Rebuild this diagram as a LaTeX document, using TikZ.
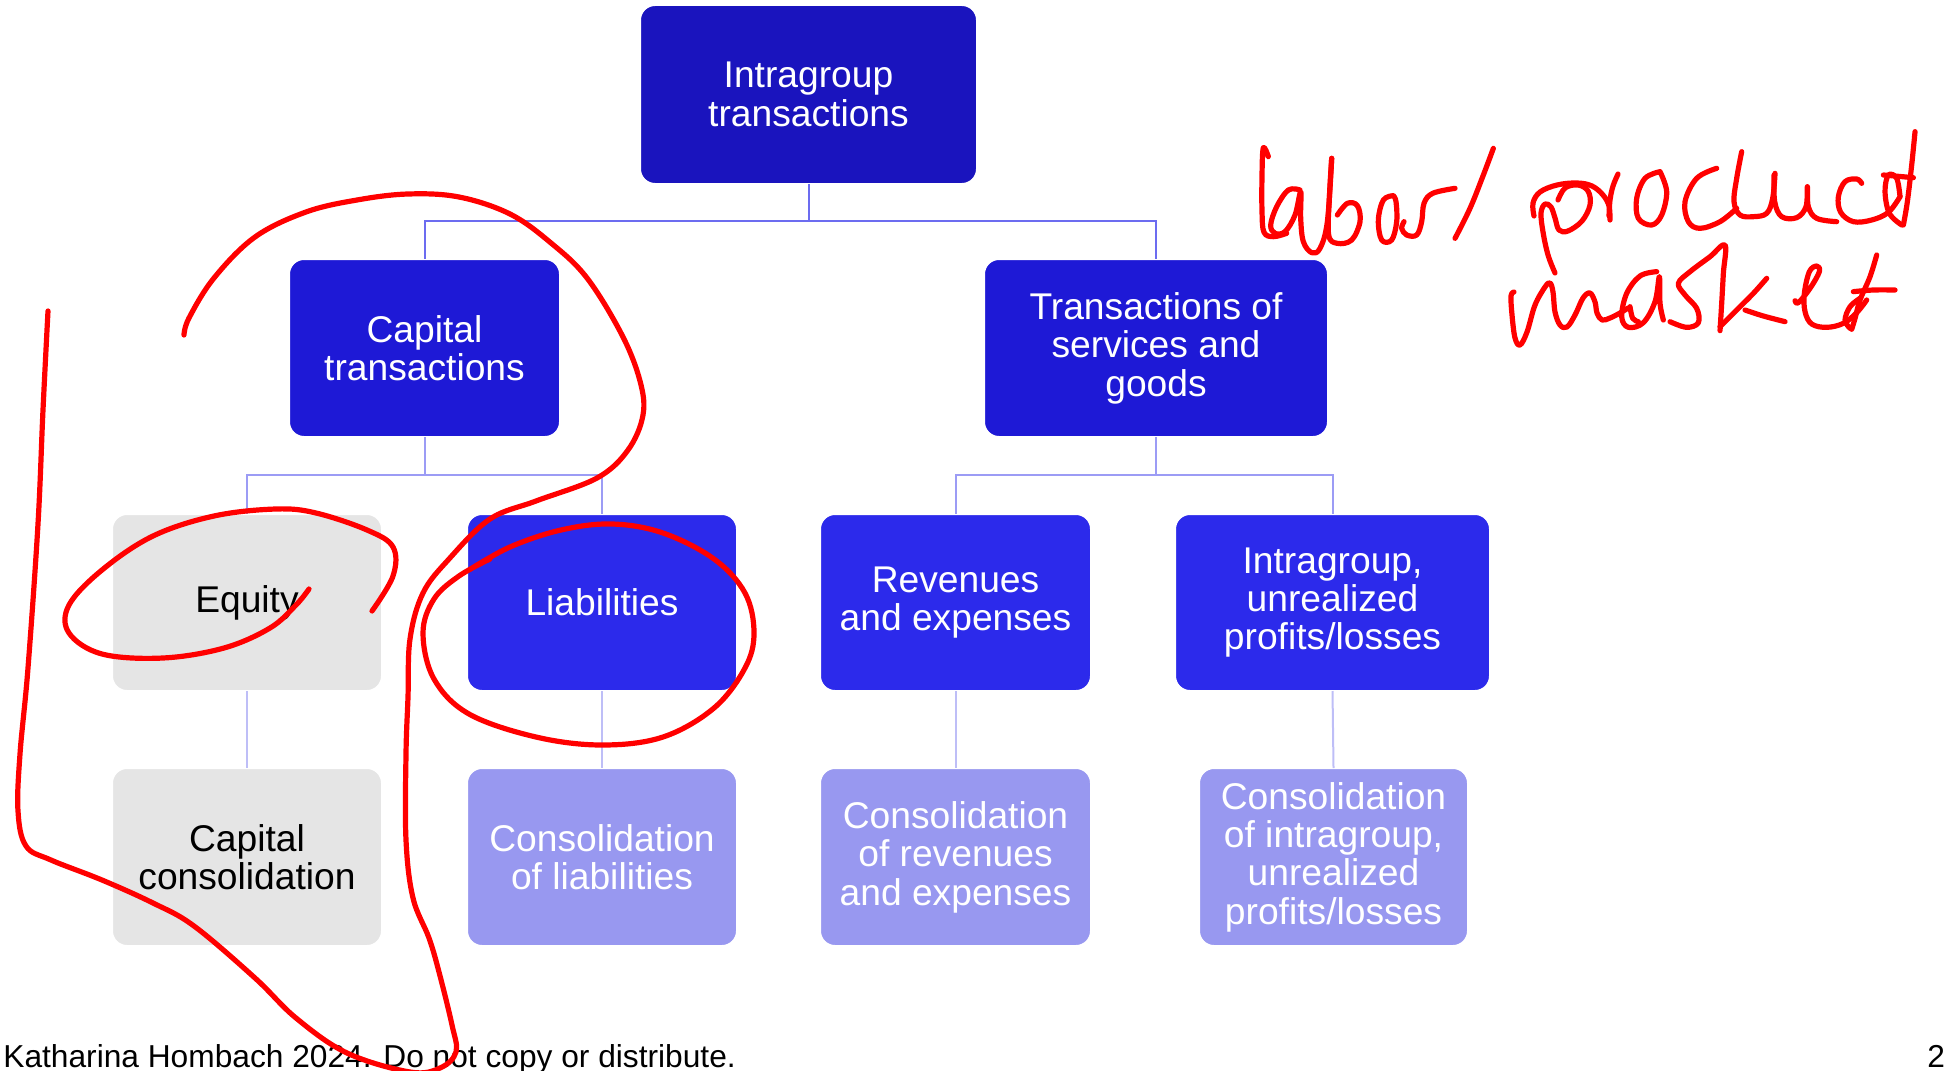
\documentclass[tikz,border=0pt]{standalone}
\usepackage{fontspec}
\setmainfont{Liberation Sans}
\definecolor{blueA}{HTML}{1A14BE}
\definecolor{blueB}{HTML}{1E19D6}
\definecolor{blueC}{HTML}{2C2AEB}
\definecolor{blueD}{HTML}{9898F0}
\definecolor{greyBox}{HTML}{E5E5E5}
\definecolor{linkA}{HTML}{6C6CF0}
\definecolor{linkB}{HTML}{9C9CF5}
\definecolor{linkC}{HTML}{BEBEF7}
\definecolor{ink}{HTML}{FF0000}
\begin{document}
\begin{tikzpicture}[x=0.5pt,y=-0.5pt,
  box/.style={rectangle, rounded corners=7.5pt, draw=white, line width=1pt,
    inner sep=0pt, outer sep=0pt, align=center, text=white,
    font=\fontsize{18.6}{19.2}\selectfont},
  link/.style={line width=1pt},
  pen/.style={draw=ink, line width=2.6pt, line cap=round, line join=round},
  zoomframe/.style={x={(0.16667pt,0)}, y={(0,-0.16667pt)}}]
\useasboundingbox (0,0) rectangle (1946,1070);

% boxes
\node[box, fill=blueA, minimum width=168.5pt, minimum height=89.5pt] (top) at (808.5,94.5) {Intragroup\\transactions};
\node[box, fill=blueB, minimum width=135.5pt, minimum height=89pt] (cap) at (424.5,348) {Capital\\transactions};
\node[box, fill=blueB, minimum width=172pt, minimum height=89pt] (svc) at (1156,348) {Transactions of\\services and\\goods};
\node[box, fill=greyBox, text=black, minimum width=135pt, minimum height=88.5pt] (eq) at (247,602.5) {Equity};
\node[box, fill=blueC, minimum width=135pt, minimum height=88.5pt] (liab) at (602,602.5) {Liabilities};
\node[box, fill=blueC, minimum width=135.5pt, minimum height=88.5pt] (rev) at (955.5,602.5) {Revenues\\and expenses};
\node[box, fill=blueC, minimum width=157.5pt, minimum height=88.5pt] (ipl) at (1332.5,602.5) {Intragroup,\\unrealized\\profits/losses};
\node[box, fill=greyBox, text=black, minimum width=135pt, minimum height=89pt] (capc) at (247,857) {Capital\\consolidation};
\node[box, fill=blueD, minimum width=135pt, minimum height=89pt] (liabc) at (602,857) {Consolidation\\of liabilities};
\node[box, fill=blueD, minimum width=135.5pt, minimum height=89pt] (revc) at (955.5,857) {Consolidation\\of revenues\\and expenses};
\node[box, fill=blueD, minimum width=134.5pt, minimum height=89pt] (iplc) at (1333.5,857) {Consolidation\\of intragroup,\\unrealized\\profits/losses};

% connectors
\draw[link, linkA] (top.south) -- ++(0,37) -| (cap.north);
\draw[link, linkA] (top.south) -- ++(0,37) -| (svc.north);
\draw[link, linkB] (cap.south) -- ++(0,38) -| (eq.north);
\draw[link, linkB] (cap.south) -- ++(0,38) -| (liab.north);
\draw[link, linkB] (svc.south) -- ++(0,38) -| (rev.north);
\draw[link, linkB] (svc.south) -- ++(0,38) -| (ipl.north);
\draw[link, linkC] (eq.south) -- (capc.north);
\draw[link, linkC] (liab.south) -- (liabc.north);
\draw[link, linkC] (rev.south) -- (revc.north);
\draw[link, linkC] (ipl.south) -- (iplc.north);

% footer
\node[anchor=base west, inner sep=0pt, font=\fontsize{15.85}{18}\selectfont] (foot) at (3,1067) {Katharina Hombach 2024. Do not copy or distribute.};
\node[anchor=base west, inner sep=0pt, font=\fontsize{15.85}{18}\selectfont] (page) at (1927,1067) {2};

% red pen annotations
\draw[pen] plot[smooth, tension=0.6] coordinates {(48,311) (43,410) (38,524) (28,668) (20,754) (18,811) (26,846) (51,860) (102,880) (153,903) (194,926) (255,978) (296,1018) (347,1053) (410,1072) (440,1068) (456,1052) (452,1025) (439,972) (429,938) (413,898) (406,840) (406,754) (408,697) (410,639) (423,593) (449,559) (490,519) (536,501) (597,478) (628,450) (643,415) (640,381) (622,335) (587,278) (551,243) (510,214) (459,197) (408,194) (357,200) (306,212) (255,237) (214,278) (189,318) (184,335)};
\draw[pen] plot[smooth, tension=0.6] coordinates {(372,611) (393,576) (393,547) (367,530) (316,513) (276,509) (214,516) (153,536) (102,570) (69,605) (69,633) (102,654) (163,658) (224,648) (270,628) (296,605) (309,589)};
\draw[pen] plot[smooth, tension=0.6] coordinates {(469,570) (510,547) (561,530) (612,524) (663,533) (714,559) (745,593) (754,633) (745,668) (714,708) (663,737) (602,745) (536,737) (469,714) (434,679) (423,633) (434,599) (459,576) (490,559)};

% "labor/"
\begin{scope}[shift={(1250,125)}, zoomframe]
\draw[pen] plot[smooth, tension=0.6] coordinates {(55,95) (40,68) (36,150) (36,260) (42,322) (70,335) (110,325)};
\draw[pen] plot[smooth, tension=0.6] coordinates {(150,195) (115,195) (80,245) (62,300) (75,325) (105,320) (135,270) (152,200) (152,280) (160,350) (185,383) (210,370) (232,290) (245,100)};
\draw[pen] plot[smooth, tension=0.6] coordinates {(245,100) (238,220) (236,330) (262,355) (305,345) (330,290) (322,242) (292,235) (262,270)};
\draw[pen] plot[smooth, tension=0.6] coordinates {(430,212) (400,225) (385,285) (395,345) (425,345) (440,290) (438,230) (430,212)};
\draw[pen] plot[smooth, tension=0.6] coordinates {(462,290) (455,310) (470,330) (500,330) (515,290) (522,235) (548,205) (615,190)};
\draw[pen] plot[smooth, tension=0.6] coordinates {(730,70) (700,150) (660,250) (615,340)};
\end{scope}

% "pr" of "product"
\draw[pen] plot[smooth, tension=0.6] coordinates {(1555,273) (1548,255) (1543,232) (1541,213) (1545,204) (1551,207) (1555,218) (1559,230) (1568,231) (1582,221) (1590,205) (1588,191) (1578,185) (1565,188) (1558,200)};
\draw[pen] plot[smooth, tension=0.6] coordinates {(1534,216) (1533,203) (1540,192) (1557,185) (1577,183) (1592,186) (1603,195) (1609,206) (1610,220)};
\draw[pen] plot[smooth, tension=0.6] coordinates {(1609,216) (1610,200) (1613,186) (1618,174)};

% "oduct"
\begin{scope}[shift={(1590,125)}, zoomframe]
\draw[pen] plot[smooth, tension=0.6] coordinates {(210,140) (165,160) (140,220) (145,280) (185,300) (215,270) (230,200) (210,140)};
\draw[pen] plot[smooth, tension=0.6] coordinates {(380,130) (320,160) (285,230) (295,290) (330,310) (390,290) (440,250)};
\draw[pen] plot[smooth, tension=0.6] coordinates {(455,80) (440,160) (432,230) (450,270) (490,275) (530,265) (548,220) (555,145)};
\draw[pen] plot[smooth, tension=0.6] coordinates {(552,150) (554,230) (575,275) (620,278) (648,245) (652,185) (655,245) (680,280) (740,290)};
\draw[pen] plot[smooth, tension=0.6] coordinates {(815,175) (800,162) (765,170) (745,215) (752,262) (790,290) (845,285) (895,262) (930,215)};
\draw[pen] plot[smooth, tension=0.6] coordinates {(975,20) (965,120) (952,230) (940,300)};
\draw[pen] plot[smooth, tension=0.6] coordinates {(930,215) (920,160) (895,150) (885,200) (898,265) (935,300)};
\draw[pen] plot[smooth, tension=0.6] coordinates {(880,150) (970,158)};
\end{scope}

% "m" of "market"
\draw[pen] plot[smooth, tension=0.6] coordinates {(1514,292) (1511,296) (1512,315) (1515,338) (1520,345) (1527,332) (1535,305) (1545,287) (1550,283) (1553,292) (1555,312) (1560,325) (1567,327) (1575,315) (1583,298) (1590,293) (1595,302) (1597,313) (1602,320) (1610,318) (1620,313) (1628,308)};

% "arket"
\begin{scope}[shift={(1490,240)}, zoomframe]
\draw[pen] plot[smooth, tension=0.6] coordinates {(500,95) (450,108) (410,160) (395,230) (415,262) (460,248) (495,185) (508,110) (510,190) (520,240)};
\draw[pen] plot[smooth, tension=0.6] coordinates {(420,200) (428,235) (445,245)};
\draw[pen] plot[smooth, tension=0.6] coordinates {(540,245) (590,262) (625,248) (620,205) (585,165) (565,130) (600,95) (660,50) (705,15) (700,100) (695,190) (690,272)};
\draw[pen] plot[smooth, tension=0.6] coordinates {(690,260) (740,210) (790,160) (830,115)};
\draw[pen] plot[smooth, tension=0.6] coordinates {(765,210) (820,228) (885,245)};
\draw[pen] plot[smooth, tension=0.6] coordinates {(915,182) (925,188) (960,145) (988,95) (980,78) (958,95) (943,160) (945,215) (965,252) (1010,262) (1060,250) (1100,218) (1130,180)};
\draw[pen] plot[smooth, tension=0.6] coordinates {(1160,45) (1140,110) (1110,180) (1095,235) (1085,268)};
\draw[pen] plot[smooth, tension=0.6] coordinates {(1110,175) (1080,200) (1065,240) (1080,265)};
\draw[pen] plot[smooth, tension=0.6] coordinates {(1090,155) (1150,150) (1215,150)};
\end{scope}
\end{tikzpicture}
\end{document}
